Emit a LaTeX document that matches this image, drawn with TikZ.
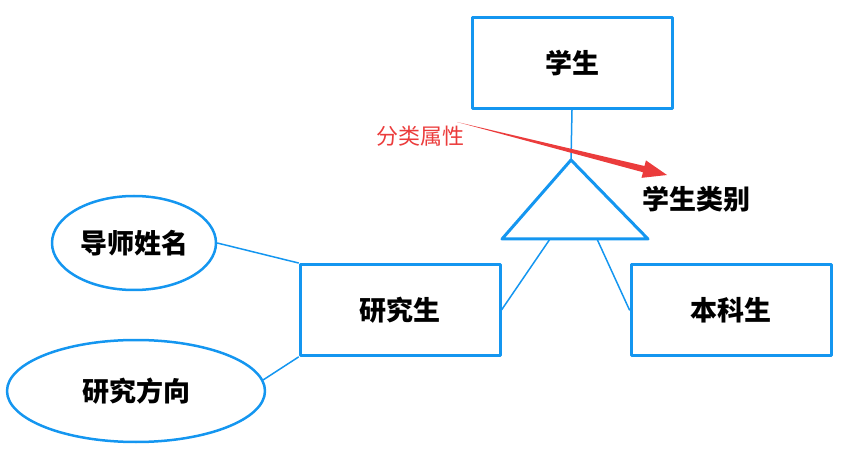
\documentclass[tikz,border=0pt]{standalone}
\usepackage{fontspec}
\setmainfont{Noto Sans CJK SC}
\usetikzlibrary{calc,positioning,shapes.geometric}
\definecolor{erblue}{RGB}{20,150,240}
\definecolor{erred}{RGB}{235,60,60}

\begin{document}
\begin{tikzpicture}[
    x=1pt,
    y=-1pt,
    line join=round,
    line cap=round,
    entity/.style={
        draw=erblue,
        line width=3pt,
        minimum width=200pt,
        minimum height=91pt,
        inner sep=0pt,
        font=\fontsize{27}{30}\selectfont\bfseries
    },
    attr/.style={
        ellipse,
        draw=erblue,
        line width=2.5pt,
        inner sep=0pt,
        font=\fontsize{27}{30}\selectfont\bfseries
    },
    link/.style={
        erblue,
        line width=1.5pt
    }
]

\useasboundingbox (0,0) rectangle (860,465);

% entities
\node[entity] (student) at (572,63)
    {学生};
\node[entity] (grad) at (400,310)
    {研究生};
\node[entity] (under) at (731,310)
    {本科生};

% attributes
\node[attr, minimum width=164pt, minimum height=94pt] (tutor) at (134,243)
    {导师姓名};
\node[attr, minimum width=258pt, minimum height=102pt] (field) at (136,391)
    {研究方向};

% triangle
\coordinate (apex) at (571,160);
\coordinate (bl) at (502,239);
\coordinate (br) at (648,239);
\coordinate (bL) at (550,239);
\coordinate (bR) at (597,239);

\draw[erblue, line width=3pt]
    (apex) -- (bl) -- (br) -- cycle;

\node[font=\fontsize{27}{30}\selectfont\bfseries] (kind) at (696,199)
    {学生类别};

% links
\draw[link] (student.south) -- (apex);
\draw[link] (bL) -- (grad.east);
\draw[link] (bR) -- (under.west);
\draw[link] (tutor.east) -- (grad.north west);
\draw[link] (field.5) -- (grad.south west);

% label and arrow
\node[text=erred, font=\fontsize{22}{24}\selectfont] (cls) at (420,136)
    {分类属性};

\coordinate (tail) at (457,122);
\coordinate (tip) at (667,175);
\coordinate (hb) at ($(tip)!24pt!(tail)$);

\fill[erred]
    (tail)
    -- ($(hb)!3.2pt!90:(tip)$)
    -- ($(hb)!9pt!90:(tip)$)
    -- (tip)
    -- ($(hb)!9pt!-90:(tip)$)
    -- ($(hb)!3.2pt!-90:(tip)$)
    -- cycle;

\end{tikzpicture}
\end{document}
